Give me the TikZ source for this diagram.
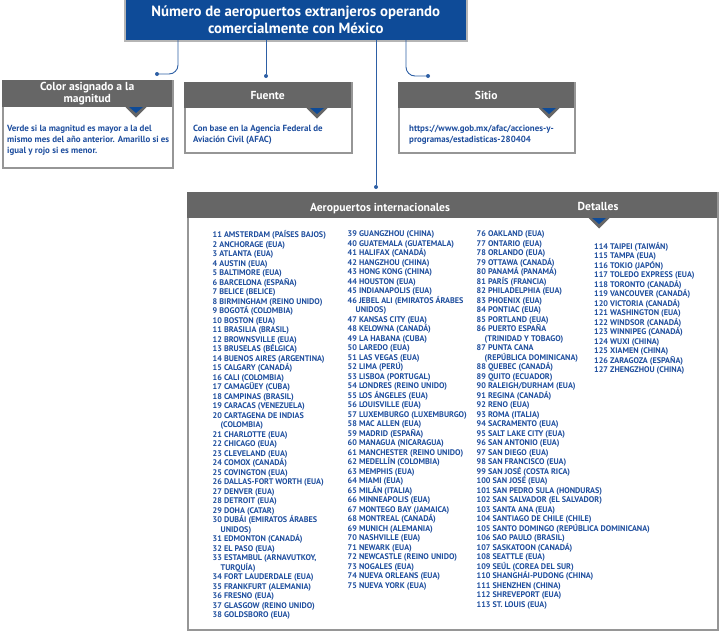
\documentclass[tikz,border=0pt]{standalone}
\usepackage{fontspec}
\setmainfont{PT Sans}[BoldFont={PT Sans Bold}]
\definecolor{titleblue}{RGB}{14,75,152}
\definecolor{txtblue}{RGB}{30,78,158}
\definecolor{lineblue}{RGB}{45,95,165}
\definecolor{hdrgray}{RGB}{102,102,102}
\definecolor{framegray}{RGB}{150,150,150}
\newcommand\mytri[2]{%
  \fill[hdrgray] (#1-10.5,#2) -- (#1+10.5,#2) -- (#1,#2+10.5) -- cycle;
  \fill[titleblue] (#1-7,#2) -- (#1+7,#2) -- (#1,#2+6) -- cycle;}
\begin{document}
\begin{tikzpicture}[x=1pt,y=-1pt,
  titlebox/.style={fill=titleblue,draw=framegray!70,line width=1.5pt,anchor=north west,inner sep=0pt,
    text=white,align=center,font=\bfseries\fontsize{14.8}{17}\selectfont},
  frame/.style={fill=white,draw=framegray,line width=1.5pt,anchor=north west,inner sep=0pt},
  hdr/.style={fill=hdrgray,anchor=north west,inner sep=0pt,text=white,align=center,
    font=\bfseries\fontsize{11.6}{12.5}\selectfont},
  bodytxt/.style={anchor=north west,inner sep=0pt,text=txtblue,align=left,
    font=\bfseries\fontsize{8.9}{11}\selectfont},
  listtxt/.style={anchor=north west,inner sep=0pt,text=txtblue,align=left,
    font=\bfseries\fontsize{8.15}{9.5}\selectfont},
  conn/.style={draw=lineblue,line width=0.9pt,rounded corners=9pt},
  dot/.style={circle,fill=lineblue,inner sep=0pt,minimum size=4pt}]
\useasboundingbox (0,0) rectangle (720,630);

% title
\node[titlebox,minimum width=342pt,minimum height=42pt] (title) at (124,-2)
  {Número de aeropuertos extranjeros operando\\comercialmente con México};

% connector end points
\coordinate (t1) at (178,40);
\coordinate (t2) at (266,40);
\coordinate (t3) at (376,40);
\coordinate (t4) at (406,40);
\node[dot] (d1) at (157,74) {};
\node[dot] (d2) at (266,76) {};
\node[dot] (d3) at (376,187) {};
\node[dot] (d4) at (428,76) {};
\draw[conn] (t1) -- (178,74) -- (d1);
\draw[conn] (t2) -- (d2);
\draw[conn] (t3) -- (d3);
\draw[conn] (t4) -- (406,76) -- (d4);

% box 1
\node[frame,minimum width=170pt,minimum height=87pt] (f1) at (2,80) {};
\node[hdr,minimum width=170pt,minimum height=27pt] (h1) at (2,80) {Color asignado a la\\magnitud};
\mytri{136}{107}
\node[bodytxt] (b1) at (7,125) {Verde si la magnitud es mayor a la del\\mismo mes del año anterior. Amarillo si es\\ igual y rojo si es menor.};

% box 2
\node[frame,minimum width=167pt,minimum height=70pt] (f2) at (184,82) {};
\node[hdr,minimum width=167pt,minimum height=26pt] (h2) at (184,82) {Fuente};
\mytri{317}{108}
\node[bodytxt] (b2) at (193,125) {Con base en la Agencia Federal de\\Aviación Civil (AFAC)};

% box 3
\node[frame,minimum width=176pt,minimum height=70pt] (f3) at (398,82) {};
\node[hdr,minimum width=176pt,minimum height=26pt] (h3) at (398,82) {Sitio};
\mytri{549}{108}
\node[bodytxt] (b3) at (409,125) {https://www.gob.mx/afac/acciones-y-\\programas/estadisticas-280404};

% big box
\node[frame,minimum width=530pt,minimum height=437pt] (f4) at (187,192) {};
\node[hdr,minimum width=530pt,minimum height=26pt] (h4) at (187,192) {};
\node[text=white,font=\bfseries\fontsize{11.6}{12}\selectfont] (ha) at (380,209) {Aeropuertos internacionales};
\node[text=white,font=\bfseries\fontsize{11.6}{12}\selectfont] (hd) at (598,206) {Detalles};
\mytri{599}{218}

\node[listtxt] (c1) at (212.5,230.5) {%
11 AMSTERDAM (PAÍSES BAJOS)\\
2 ANCHORAGE (EUA)\\
3 ATLANTA (EUA)\\
4 AUSTIN (EUA)\\
5 BALTIMORE (EUA)\\
6 BARCELONA (ESPAÑA)\\
7 BELICE (BELICE)\\
8 BIRMINGHAM (REINO UNIDO)\\
9 BOGOTÁ (COLOMBIA)\\
10 BOSTON (EUA)\\
11 BRASILIA (BRASIL)\\
12 BROWNSVILLE (EUA)\\
13 BRUSELAS (BÉLGICA)\\
14 BUENOS AIRES (ARGENTINA)\\
15 CALGARY (CANADÁ)\\
16 CALI (COLOMBIA)\\
17 CAMAGÜEY (CUBA)\\
18 CAMPINAS (BRASIL)\\
19 CARACAS (VENEZUELA)\\
20 CARTAGENA DE INDIAS\\
\hspace*{8pt}(COLOMBIA)\\
21 CHARLOTTE (EUA)\\
22 CHICAGO (EUA)\\
23 CLEVELAND (EUA)\\
24 COMOX (CANADÁ)\\
25 COVINGTON (EUA)\\
26 DALLAS-FORT WORTH (EUA)\\
27 DENVER (EUA)\\
28 DETROIT (EUA)\\
29 DOHA (CATAR)\\
30 DUBÁI (EMIRATOS ÁRABES\\
\hspace*{8pt}UNIDOS)\\
31 EDMONTON (CANADÁ)\\
32 EL PASO (EUA)\\
33 ESTAMBUL (ARNAVUTKOY,\\
\hspace*{8pt}TURQUÍA)\\
34 FORT LAUDERDALE (EUA)\\
35 FRANKFURT (ALEMANIA)\\
36 FRESNO (EUA)\\
37 GLASGOW (REINO UNIDO)\\
38 GOLDSBORO (EUA)};

\node[listtxt] (c2) at (347.5,230.5) {%
39 GUANGZHOU (CHINA)\\
40 GUATEMALA (GUATEMALA)\\
41 HALIFAX (CANADÁ)\\
42 HANGZHOU (CHINA)\\
43 HONG KONG (CHINA)\\
44 HOUSTON (EUA)\\
45 INDIANAPOLIS (EUA)\\
46 JEBEL ALI (EMIRATOS ÁRABES\\
\hspace*{8pt}UNIDOS)\\
47 KANSAS CITY (EUA)\\
48 KELOWNA (CANADÁ)\\
49 LA HABANA (CUBA)\\
50 LAREDO (EUA)\\
51 LAS VEGAS (EUA)\\
52 LIMA (PERÚ)\\
53 LISBOA (PORTUGAL)\\
54 LONDRES (REINO UNIDO)\\
55 LOS ÁNGELES (EUA)\\
56 LOUISVILLE (EUA)\\
57 LUXEMBURGO (LUXEMBURGO)\\
58 MAC ALLEN (EUA)\\
59 MADRID (ESPAÑA)\\
60 MANAGUA (NICARAGUA)\\
61 MANCHESTER (REINO UNIDO)\\
62 MEDELLÍN (COLOMBIA)\\
63 MEMPHIS (EUA)\\
64 MIAMI (EUA)\\
65 MILÁN (ITALIA)\\
66 MINNEAPOLIS (EUA)\\
67 MONTEGO BAY (JAMAICA)\\
68 MONTREAL (CANADÁ)\\
69 MUNICH (ALEMANIA)\\
70 NASHVILLE (EUA)\\
71 NEWARK (EUA)\\
72 NEWCASTLE (REINO UNIDO)\\
73 NOGALES (EUA)\\
74 NUEVA ORLEANS (EUA)\\
75 NUEVA YORK (EUA)};

\node[listtxt] (c3) at (476.5,230.5) {%
76 OAKLAND (EUA)\\
77 ONTARIO (EUA)\\
78 ORLANDO (EUA)\\
79 OTTAWA (CANADÁ)\\
80 PANAMÁ (PANAMÁ)\\
81 PARÍS (FRANCIA)\\
82 PHILADELPHIA (EUA)\\
83 PHOENIX (EUA)\\
84 PONTIAC (EUA)\\
85 PORTLAND (EUA)\\
86 PUERTO ESPAÑA\\
\hspace*{8pt}(TRINIDAD Y TOBAGO)\\
87 PUNTA CANA\\
\hspace*{8pt}(REPÚBLICA DOMINICANA)\\
88 QUEBEC (CANADÁ)\\
89 QUITO (ECUADOR)\\
90 RALEIGH/DURHAM (EUA)\\
91 REGINA (CANADÁ)\\
92 RENO (EUA)\\
93 ROMA (ITALIA)\\
94 SACRAMENTO (EUA)\\
95 SALT LAKE CITY (EUA)\\
96 SAN ANTONIO (EUA)\\
97 SAN DIEGO (EUA)\\
98 SAN FRANCISCO (EUA)\\
99 SAN JOSÉ (COSTA RICA)\\
100 SAN JOSÉ (EUA)\\
101 SAN PEDRO SULA (HONDURAS)\\
102 SAN SALVADOR (EL SALVADOR)\\
103 SANTA ANA (EUA)\\
104 SANTIAGO DE CHILE (CHILE)\\
105 SANTO DOMINGO (REPÚBLICA DOMINICANA)\\
106 SAO PAULO (BRASIL)\\
107 SASKATOON (CANADÁ)\\
108 SEATTLE (EUA)\\
109 SEÚL (COREA DEL SUR)\\
110 SHANGHÁI-PUDONG (CHINA)\\
111 SHENZHEN (CHINA)\\
112 SHREVEPORT (EUA)\\
113 ST. LOUIS (EUA)};

\node[listtxt] (c4) at (594,242) {%
114 TAIPEI (TAIWÁN)\\
115 TAMPA (EUA)\\
116 TOKIO (JAPÓN)\\
117 TOLEDO EXPRESS (EUA)\\
118 TORONTO (CANADÁ)\\
119 VANCOUVER (CANADÁ)\\
120 VICTORIA (CANADÁ)\\
121 WASHINGTON (EUA)\\
122 WINDSOR (CANADÁ)\\
123 WINNIPEG (CANADÁ)\\
124 WUXI (CHINA)\\
125 XIAMEN (CHINA)\\
126 ZARAGOZA (ESPAÑA)\\
127 ZHENGZHOU (CHINA)};
\end{tikzpicture}
\end{document}
